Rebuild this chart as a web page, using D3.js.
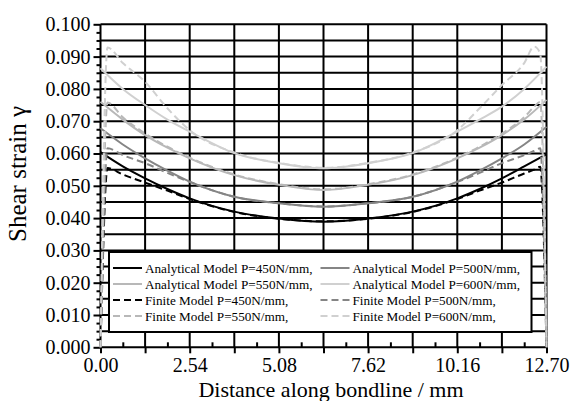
<!DOCTYPE html>
<html lang="en">
<head>
  <meta charset="UTF-8">
  <title></title>
  <style>
    html, body {
      margin: 0;
      overflow: hidden;
      width: 100%;
      height: 100%;
      background: #fff;
    }

    svg {
      position: absolute;
      top: 0;
      left: 0;
      width: 576px;
      height: 401px;
      font-family: 'Liberation Serif', 'Times New Roman', serif;
    }
  </style>
</head>
<body>
  <svg></svg>
</body>
<script src="https://d3js.org/d3.v7.min.js"></script>
<script type="text/javascript">
  // distance along bondline (mm) where the curves were read
  const xAnalytical = [0, 0.635, 1.27, 1.905, 2.54, 3.81, 5.08, 6.35, 7.62, 8.89, 10.16, 10.795, 11.43, 12.065, 12.7]
  const analytical450 = [0.0604, 0.0560, 0.0523, 0.0490, 0.0461, 0.0420, 0.0399, 0.0389, 0.0399, 0.0420, 0.0461, 0.0490, 0.0523, 0.0560, 0.0598]
  const analytical500 = [0.0678, 0.0628, 0.0585, 0.0547, 0.0513, 0.0466, 0.0446, 0.0435, 0.0446, 0.0466, 0.0513, 0.0547, 0.0585, 0.0628, 0.0683]
  const analytical550 = [0.0760, 0.0705, 0.0657, 0.0618, 0.0585, 0.0533, 0.0503, 0.0487, 0.0503, 0.0533, 0.0585, 0.0618, 0.0657, 0.0705, 0.0766]
  const analytical600 = [0.0864, 0.0800, 0.0750, 0.0705, 0.0668, 0.0601, 0.0570, 0.0554, 0.0570, 0.0601, 0.0668, 0.0705, 0.0745, 0.0800, 0.0869]

  const xFinite = [0, 0.2, 0.635, 1.27, 1.905, 2.54, 3.81, 5.08, 6.35, 7.62, 8.89, 10.16, 10.795, 11.43, 12.065, 12.35, 12.52, 12.7]
  const finite450 = [0, 0.0555, 0.0535, 0.0510, 0.0485, 0.0459, 0.0419, 0.0398, 0.0390, 0.0398, 0.0419, 0.0459, 0.0485, 0.0510, 0.0538, 0.0550, 0.0559, 0]
  const finite500 = [0, 0.0616, 0.0595, 0.0570, 0.0540, 0.0512, 0.0466, 0.0446, 0.0436, 0.0446, 0.0466, 0.0512, 0.0540, 0.0570, 0.0595, 0.0608, 0.0616, 0]
  const finite550 = [0, 0.0758, 0.0712, 0.0662, 0.0621, 0.0587, 0.0535, 0.0505, 0.0489, 0.0505, 0.0535, 0.0587, 0.0621, 0.0662, 0.0712, 0.0745, 0.0760, 0]
  const finite600 = [0, 0.0928, 0.0880, 0.0822, 0.0740, 0.0672, 0.0603, 0.0571, 0.0556, 0.0571, 0.0603, 0.0672, 0.0740, 0.0812, 0.0880, 0.0931, 0.0910, 0]

  const xTickLabels = ['0.00', '2.54', '5.08', '7.62', '10.16', '12.70']
  const yTickLabels = ['0.000', '0.010', '0.020', '0.030', '0.040', '0.050', '0.060', '0.070', '0.080', '0.090', '0.100']

  const series = [
    { name: 'Analytical Model P=450N/mm,', xs: xAnalytical, ys: analytical450, color: '#000', dash: null },
    { name: 'Analytical Model P=500N/mm,', xs: xAnalytical, ys: analytical500, color: '#858585', dash: null },
    { name: 'Analytical Model P=550N/mm,', xs: xAnalytical, ys: analytical550, color: '#b8b8b8', dash: null },
    { name: 'Analytical Model P=600N/mm,', xs: xAnalytical, ys: analytical600, color: '#d0d0d0', dash: null },
    { name: 'Finite Model P=450N/mm,', xs: xFinite, ys: finite450, color: '#000', dash: '7,4' },
    { name: 'Finite Model P=500N/mm,', xs: xFinite, ys: finite500, color: '#858585', dash: '7,4' },
    { name: 'Finite Model P=550N/mm,', xs: xFinite, ys: finite550, color: '#b8b8b8', dash: '7,4' },
    { name: 'Finite Model P=600N/mm,', xs: xFinite, ys: finite600, color: '#d0d0d0', dash: '7,4' }
  ]

  const svg = d3.select('svg')

  const x = d3.scaleLinear().domain([0, 12.7]).range([100.5, 546.5])
  const y = d3.scaleLinear().domain([0, 0.1]).range([347.3, 24.3])

  // grid
  svg.append('g')
    .selectAll('line')
    .data(d3.range(0, 21).map(i => i * 0.005))
    .enter()
    .append('line')
    .attr('x1', x(0))
    .attr('x2', x(12.7))
    .attr('y1', d => y(d))
    .attr('y2', d => y(d))
    .attr('stroke', '#000')
    .attr('stroke-width', 2)

  svg.append('g')
    .selectAll('line')
    .data(d3.range(0, 11).map(i => i * 1.27))
    .enter()
    .append('line')
    .attr('x1', d => x(d))
    .attr('x2', d => x(d))
    .attr('y1', y(0))
    .attr('y2', y(0.1))
    .attr('stroke', '#000')
    .attr('stroke-width', 2)

  // axes
  const yAxis = d3.axisLeft(y)
    .tickValues(yTickLabels.map(Number))
    .tickFormat((d, i) => yTickLabels[i])
    .tickSize(7)
    .tickPadding(3)
  const yMinor = d3.axisLeft(y)
    .tickValues(d3.range(0, 41).map(i => i * 0.0025).filter((d, i) => i % 4 !== 0))
    .tickFormat('')
    .tickSize(4)

  const xAxis = d3.axisBottom(x)
    .tickValues(xTickLabels.map(Number))
    .tickFormat((d, i) => xTickLabels[i])
    .tickSize(6)
    .tickPadding(5)
  const xMid = d3.axisBottom(x)
    .tickValues([1, 3, 5, 7, 9].map(i => i * 1.27))
    .tickFormat('')
    .tickSize(6)
  const xMinor = d3.axisBottom(x)
    .tickValues(d3.range(0, 10).map(i => 0.635 + i * 1.27))
    .tickFormat('')
    .tickSize(-5)

  const axisStyle = g => {
    g.select('.domain').remove()
    g.selectAll('line').attr('stroke', '#000').attr('stroke-width', 2)
    g.selectAll('text').attr('fill', '#000').style('font-size', '20px')
      .style('font-family', "'Liberation Serif', serif")
  }

  svg.append('g').attr('transform', `translate(${x(0)},0)`).call(yAxis).call(axisStyle)
  svg.append('g').attr('transform', `translate(${x(0)},0)`).call(yMinor).call(axisStyle)
  svg.append('g').attr('transform', `translate(0,${y(0)})`).call(xAxis).call(axisStyle)
  svg.append('g').attr('transform', `translate(0,${y(0)})`).call(xMid).call(axisStyle)
  svg.append('g').attr('transform', `translate(0,${y(0)})`).call(xMinor).call(axisStyle)

  // curves
  const line = d3.line()
    .x(d => x(d[0]))
    .y(d => y(d[1]))
    .curve(d3.curveMonotoneX)

  svg.append('g')
    .selectAll('path')
    .data(series)
    .enter()
    .append('path')
    .attr('d', s => line(s.xs.map((v, i) => [v, s.ys[i]])))
    .attr('fill', 'none')
    .attr('stroke', s => s.color)
    .attr('stroke-width', 2)
    .attr('stroke-dasharray', s => s.dash)

  // legend
  const legend = svg.append('g')
  legend.append('rect')
    .attr('x', 109)
    .attr('y', 252)
    .attr('width', 422.5)
    .attr('height', 80)
    .attr('fill', '#fff')
    .attr('stroke', '#000')
    .attr('stroke-width', 2)

  const items = legend.selectAll('g.item')
    .data(series)
    .enter()
    .append('g')
    .attr('class', 'item')
    .attr('transform', (s, i) => `translate(${i % 2 === 0 ? 113 : 320.5},${268 + Math.floor(i / 2) * 16})`)

  items.append('line')
    .attr('x1', 0)
    .attr('x2', 29)
    .attr('stroke', s => s.color)
    .attr('stroke-width', 2)
    .attr('stroke-dasharray', s => s.dash)

  items.append('text')
    .attr('x', 32)
    .attr('y', 5)
    .style('font-size', '13.2px')
    .text(s => s.name)

  // axis titles
  svg.append('text')
    .attr('x', 331)
    .attr('y', 397)
    .attr('text-anchor', 'middle')
    .style('font-size', '22px')
    .text('Distance along bondline / mm')

  svg.append('text')
    .attr('transform', 'translate(26,174) rotate(-90)')
    .attr('text-anchor', 'middle')
    .style('font-size', '25px')
    .text('Shear strain γ')
</script>
</html>
